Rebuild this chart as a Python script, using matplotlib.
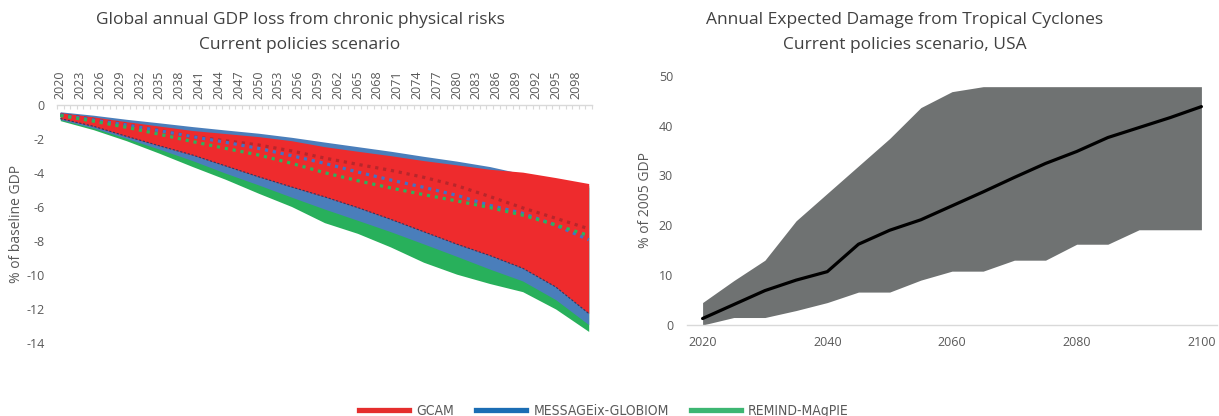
import matplotlib
matplotlib.use("Agg")
import matplotlib.pyplot as plt
from matplotlib.lines import Line2D
import numpy as np

# ---------------- data: left chart (% of baseline GDP) ----------------
years_left = [2020, 2025, 2030, 2035, 2040, 2045, 2050, 2055, 2060,
              2065, 2070, 2075, 2080, 2085, 2090, 2095, 2100]

gcam_upper = [-0.45, -0.70, -0.98, -1.24, -1.50, -1.68, -1.86, -2.10, -2.45,
              -2.72, -2.98, -3.27, -3.52, -3.78, -3.95, -4.27, -4.62]
gcam_lower = [-0.80, -1.25, -1.84, -2.40, -2.94, -3.58, -4.22, -4.82, -5.40,
              -6.03, -6.72, -7.45, -8.18, -8.85, -9.60, -10.70, -12.26]
gcam_median = [-0.55, -0.85, -1.15, -1.50, -1.86, -2.10, -2.35, -2.70, -3.12,
               -3.49, -3.84, -4.25, -4.74, -5.38, -6.05, -6.66, -7.28]

message_upper = [-0.40, -0.60, -0.84, -1.05, -1.27, -1.47, -1.66, -1.90, -2.18,
                 -2.45, -2.72, -3.02, -3.30, -3.62, -4.05, -4.45, -4.85]
message_lower = [-0.86, -1.35, -1.96, -2.60, -3.27, -4.01, -4.70, -5.42, -6.12,
                 -6.78, -7.45, -8.17, -8.90, -9.65, -10.35, -11.45, -12.92]
message_median = [-0.58, -0.88, -1.17, -1.51, -1.86, -2.19, -2.55, -2.98, -3.43,
                  -3.94, -4.41, -4.84, -5.31, -5.90, -6.37, -7.07, -7.93]

remind_upper = [-0.47, -0.74, -1.05, -1.32, -1.60, -1.80, -2.00, -2.25, -2.60,
                -2.90, -3.15, -3.45, -3.70, -3.95, -4.10, -4.40, -4.75]
remind_lower = [-0.92, -1.45, -2.10, -2.84, -3.62, -4.37, -5.19, -5.97, -6.92,
                -7.55, -8.35, -9.25, -9.95, -10.50, -10.98, -12.00, -13.32]
remind_median = [-0.62, -0.95, -1.31, -1.72, -2.15, -2.55, -2.94, -3.43, -3.98,
                 -4.45, -4.88, -5.27, -5.64, -6.03, -6.48, -7.05, -7.68]

left_ticks = list(range(-14, 1, 2))
left_year_labels = list(range(2020, 2101, 3))

# ---------------- data: right chart (% of 2005 GDP) ----------------
years_right = [2020, 2025, 2030, 2035, 2040, 2045, 2050, 2055, 2060,
               2065, 2070, 2075, 2080, 2085, 2090, 2095, 2100]
tc_upper = [4.5, 8.9, 13.0, 20.9, 26.4, 31.9, 37.4, 43.6, 46.8,
            47.8, 47.8, 47.8, 47.8, 47.8, 47.8, 47.8, 47.8]
tc_median = [1.3, 4.1, 6.9, 9.0, 10.7, 16.2, 19.0, 21.1, 23.9,
             26.7, 29.6, 32.4, 34.8, 37.6, 39.6, 41.6, 43.8]
tc_lower = [0.0, 1.5, 1.5, 2.9, 4.5, 6.6, 6.6, 9.0, 10.8,
            10.8, 13.0, 13.0, 16.2, 16.2, 19.1, 19.1, 19.1]
right_xticks = [2020, 2040, 2060, 2080, 2100]
right_yticks = [0, 10, 20, 30, 40, 50]

# ---------------- styling ----------------
RED = '#EE2B2D'
BLUE = '#4A7EBB'
GREEN = '#28B05B'
GRAY_TXT = '#595959'
TITLE_C = '#404040'
FONT = ['Open Sans', 'DejaVu Sans']

plt.rcParams['font.family'] = FONT

W, H = 1219, 416
fig = plt.figure(figsize=(W / 100, H / 100), dpi=100)

def fx(px):
    return px / W

def fy(py):
    return 1 - py / H

# ---------------- left chart ----------------
L0, L1 = 57, 592
axl = fig.add_axes([fx(L0), fy(343), fx(L1) - fx(L0), fy(105) - fy(343)])
axl.fill_between(years_left, remind_upper, remind_lower, color=GREEN, lw=0, zorder=1)
axl.fill_between(years_left, message_upper, message_lower, color=BLUE, lw=0, zorder=2)
axl.fill_between(years_left, gcam_upper, gcam_lower, color=RED, lw=0, zorder=3)
axl.plot(years_left, gcam_lower, color='#2B3A67', lw=0.8, ls=(0, (2, 1.5)), zorder=4)
dot = (0, (1, 1.5))
axl.plot(years_left, gcam_median, color='#B8262B', lw=2.3, ls=dot, zorder=5)
axl.plot(years_left, message_median, color='#4472C4', lw=2.3, ls=dot, zorder=6)
axl.plot(years_left, remind_median, color='#2DB35C', lw=2.3, ls=dot, zorder=7)

axl.set_xlim(2019.5, 2100.5)
axl.set_ylim(-14, 0)
for s in ['bottom', 'left', 'right']:
    axl.spines[s].set_visible(False)
axl.spines['top'].set_color('#D9D9D9')
axl.spines['top'].set_linewidth(1.0)
axl.xaxis.set_ticks_position('top')
axl.xaxis.set_label_position('top')
axl.set_xticks(left_year_labels)
axl.set_xticklabels([str(y) for y in left_year_labels], rotation=90,
                    fontsize=9, color=GRAY_TXT)
axl.set_xticks(np.arange(2019.5, 2101, 1.0), minor=True)
axl.tick_params(axis='x', which='major', length=0, pad=4)
axl.tick_params(axis='x', which='minor', length=3, direction='in',
                color='#D9D9D9', width=0.8)
axl.set_yticks(left_ticks)
axl.set_yticklabels([str(t) for t in left_ticks], fontsize=9, color=GRAY_TXT)
axl.tick_params(axis='y', length=0, pad=9)
axl.set_ylabel('% of baseline GDP', fontsize=10, color=GRAY_TXT)
axl.yaxis.set_label_coords((24 - L0) / (L1 - L0), 0.5)

fig.text(fx(300), fy(20), 'Global annual GDP loss from chronic physical risks',
         ha='center', va='center', fontsize=12.5, color=TITLE_C)
fig.text(fx(300), fy(45), 'Current policies scenario',
         ha='center', va='center', fontsize=12.5, color=TITLE_C)

# ---------------- right chart ----------------
R0, R1 = 687, 1217
axr = fig.add_axes([fx(R0), fy(325), fx(R1) - fx(R0), fy(75.7) - fy(325)])
axr.fill_between(years_right, tc_lower, tc_upper, color='#6F7272', lw=0, zorder=1)
axr.plot(years_right, tc_median, color='black', lw=2.3, zorder=2,
         solid_joinstyle='round', solid_capstyle='round')
axr.set_xlim(2017.5, 2102.5)
axr.set_ylim(0, 50)
for s in ['top', 'left', 'right']:
    axr.spines[s].set_visible(False)
axr.spines['bottom'].set_color('#D9D9D9')
axr.spines['bottom'].set_linewidth(1.0)
axr.set_xticks(right_xticks)
axr.set_xticklabels([str(y) for y in right_xticks], fontsize=9, color=GRAY_TXT)
axr.set_yticks(right_yticks)
axr.set_yticklabels([str(t) for t in right_yticks], fontsize=9, color=GRAY_TXT)
axr.tick_params(axis='both', length=0)
axr.tick_params(axis='x', pad=8)
axr.tick_params(axis='y', pad=10)
axr.set_ylabel('% of 2005 GDP', fontsize=10, color=GRAY_TXT)
axr.yaxis.set_label_coords((653 - R0) / (R1 - R0), 0.5)

fig.text(fx(905), fy(20), 'Annual Expected Damage from Tropical Cyclones',
         ha='center', va='center', fontsize=12.5, color=TITLE_C)
fig.text(fx(905), fy(45), 'Current policies scenario, USA',
         ha='center', va='center', fontsize=12.5, color=TITLE_C)

# ---------------- legend ----------------
handles = [Line2D([], [], color='#E52E2D', lw=3.8),
           Line2D([], [], color='#1B6DB4', lw=3.8),
           Line2D([], [], color='#3DB672', lw=3.8)]
labels = ['GCAM', 'MESSAGEix-GLOBIOM', 'REMIND-MAgPIE']
leg = fig.legend(handles, labels, loc='center', bbox_to_anchor=(fx(604), fy(411)),
                 ncol=3, frameon=False, handlelength=3.6, handletextpad=0.5,
                 columnspacing=1.6,
                 prop={'family': 'DejaVu Sans', 'stretch': 'condensed', 'size': 10})
for t in leg.get_texts():
    t.set_color(GRAY_TXT)

fig.savefig('out.png', dpi=100)
